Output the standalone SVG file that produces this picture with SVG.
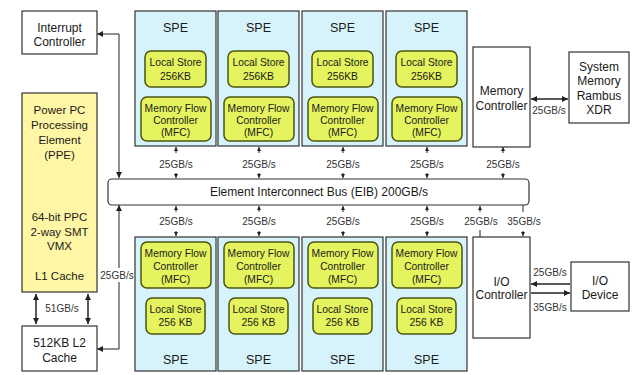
<svg xmlns="http://www.w3.org/2000/svg" width="635" height="375" viewBox="0 0 635 375">
  <style>
    text { font-family: "Liberation Sans", Arial, sans-serif; font-size: 12px; fill: #1a1a1a; text-anchor: middle; }
    .lbl { font-size: 10px; fill: #333; }
    .in { font-size: 10.3px; }
    .ppt { font-size: 11.5px; }
    .title { font-size: 12.5px; }
    .bus { font-size: 12px; }
    .box { fill: #fff; stroke: #333; stroke-width: 1.2; }
    .spe { fill: #d6f2fa; stroke: #333; stroke-width: 1.2; }
    .inner { fill: #e5f35e; stroke: #4a5512; stroke-width: 1.5; }
    .ppe { fill: #fff7a6; stroke: #333; stroke-width: 1.2; }
    .eib { fill: #fff; stroke: #333; stroke-width: 1.2; }
    .wire { fill: none; stroke: #222; stroke-width: 1; }
    .wire2 { fill: none; stroke: #222; stroke-width: 1.5; }
  </style>
  <defs>
    <marker id="head" viewBox="0 0 6 6" refX="6" refY="3" markerWidth="4" markerHeight="4" orient="auto" markerUnits="userSpaceOnUse">
      <path d="M0,0 L6,3 L0,6 Z" fill="#222"/>
    </marker>
    <marker id="bighead" viewBox="0 0 6 6" refX="6" refY="3" markerWidth="6" markerHeight="6" orient="auto" markerUnits="userSpaceOnUse">
      <path d="M0,0 L6,3 L0,6 Z" fill="#222"/>
    </marker>
    <marker id="bigtail" viewBox="0 0 6 6" refX="0" refY="3" markerWidth="6" markerHeight="6" orient="auto" markerUnits="userSpaceOnUse">
      <path d="M6,0 L0,3 L6,6 Z" fill="#222"/>
    </marker>
  </defs>

  <rect width="635" height="375" fill="#fff"/>

  <!-- connectors -->
  <g id="connectors">
    <!-- Interrupt controller to EIB -->
    <path class="wire" d="M97,34 H119 V178" marker-start="url(#bigtail)" marker-end="url(#bighead)"/>
    <!-- EIB to L2 cache -->
    <path class="wire" d="M119,205 V349 H97" marker-start="url(#bigtail)" marker-end="url(#bighead)"/>
    <rect x="99" y="268" width="36" height="14" fill="#fff"/>
    <text class="lbl" x="117" y="279">25GB/s</text>

    <!-- PPE to L2 cache -->
    <line class="wire2" x1="36" y1="294" x2="36" y2="324" marker-start="url(#bigtail)" marker-end="url(#bighead)"/>
    <line class="wire2" x1="88" y1="294" x2="88" y2="324" marker-start="url(#bigtail)" marker-end="url(#bighead)"/>
    <text class="lbl" x="62" y="312">51GB/s</text>

    <!-- top SPEs / memory controller to EIB -->
    <g id="top-links">
      <path class="wire" d="M176,153 V147" marker-end="url(#head)"/>
      <path class="wire" d="M176,173 V178" marker-end="url(#head)"/>
      <text class="lbl" x="176" y="168">25GB/s</text>
      <path class="wire" d="M259,153 V147" marker-end="url(#head)"/>
      <path class="wire" d="M259,173 V178" marker-end="url(#head)"/>
      <text class="lbl" x="259" y="168">25GB/s</text>
      <path class="wire" d="M343,153 V147" marker-end="url(#head)"/>
      <path class="wire" d="M343,173 V178" marker-end="url(#head)"/>
      <text class="lbl" x="343" y="168">25GB/s</text>
      <path class="wire" d="M427,153 V147" marker-end="url(#head)"/>
      <path class="wire" d="M427,173 V178" marker-end="url(#head)"/>
      <text class="lbl" x="427" y="168">25GB/s</text>
      <path class="wire" d="M503,153 V147" marker-end="url(#head)"/>
      <path class="wire" d="M503,173 V178" marker-end="url(#head)"/>
      <text class="lbl" x="503" y="168">25GB/s</text>
    </g>

    <!-- EIB to bottom SPEs / IO controller -->
    <g id="bottom-links">
      <path class="wire" d="M176,212 V206" marker-end="url(#head)"/>
      <path class="wire" d="M176,231 V236" marker-end="url(#head)"/>
      <text class="lbl" x="176" y="225">25GB/s</text>
      <path class="wire" d="M259,212 V206" marker-end="url(#head)"/>
      <path class="wire" d="M259,231 V236" marker-end="url(#head)"/>
      <text class="lbl" x="259" y="225">25GB/s</text>
      <path class="wire" d="M343,212 V206" marker-end="url(#head)"/>
      <path class="wire" d="M343,231 V236" marker-end="url(#head)"/>
      <text class="lbl" x="343" y="225">25GB/s</text>
      <path class="wire" d="M427,212 V206" marker-end="url(#head)"/>
      <path class="wire" d="M427,231 V236" marker-end="url(#head)"/>
      <text class="lbl" x="427" y="225">25GB/s</text>
      <path class="wire" d="M480,212 V206" marker-end="url(#head)"/>
      <line class="wire" x1="480" y1="230" x2="480" y2="237"/>
      <text class="lbl" x="481" y="225">25GB/s</text>
      <line class="wire" x1="523" y1="205" x2="523" y2="212"/>
      <path class="wire" d="M523,231 V236" marker-end="url(#head)"/>
      <text class="lbl" x="524" y="225">35GB/s</text>
    </g>

    <!-- memory controller to system memory -->
    <line class="wire2" x1="531" y1="99" x2="568" y2="99" marker-start="url(#bigtail)" marker-end="url(#bighead)"/>
    <text class="lbl" x="549" y="114">25GB/s</text>

    <!-- IO controller to IO device -->
    <path class="wire2" d="M570,284 H531" marker-end="url(#bighead)"/>
    <path class="wire2" d="M531,293 H570" marker-end="url(#bighead)"/>
    <text class="lbl" x="550" y="276">25GB/s</text>
    <text class="lbl" x="550" y="311">35GB/s</text>
  </g>

  <!-- Interrupt controller -->
  <g id="interrupt-controller">
    <rect class="box" x="22" y="11" width="75" height="43"/>
    <text x="59.5" y="32">Interrupt</text>
    <text x="59.5" y="46">Controller</text>
  </g>

  <!-- PPE -->
  <g id="ppe">
    <rect class="ppe" x="22" y="93" width="75" height="199"/>
    <text class="ppt" x="59.5" y="114">Power PC</text>
    <text class="ppt" x="59.5" y="129">Processing</text>
    <text class="ppt" x="59.5" y="144">Element</text>
    <text class="ppt" x="59.5" y="159">(PPE)</text>
    <text class="ppt" x="59.5" y="221">64-bit PPC</text>
    <text class="ppt" x="59.5" y="236">2-way SMT</text>
    <text class="ppt" x="59.5" y="250">VMX</text>
    <text class="ppt" x="59.5" y="280">L1 Cache</text>
  </g>

  <!-- L2 cache -->
  <g id="l2-cache">
    <rect class="box" x="22" y="326" width="75" height="45"/>
    <text x="59.5" y="347">512KB L2</text>
    <text x="59.5" y="362">Cache</text>
  </g>

  <!-- top row of SPEs -->
  <g id="spe-top-1">
    <rect class="spe" x="135" y="11" width="81" height="135"/>
    <text class="title" x="175.5" y="32">SPE</text>
    <rect class="inner" x="145" y="51" width="61" height="36" rx="6"/>
    <text class="in" x="175.5" y="66">Local Store</text>
    <text class="in" x="175.5" y="80">256KB</text>
    <rect class="inner" x="141" y="97" width="70" height="44" rx="6"/>
    <text class="in" x="175.5" y="112">Memory Flow</text>
    <text class="in" x="175.5" y="124">Controller</text>
    <text class="in" x="175.5" y="136">(MFC)</text>
  </g>
  <g id="spe-top-2">
    <rect class="spe" x="218" y="11" width="81" height="135"/>
    <text class="title" x="258.5" y="32">SPE</text>
    <rect class="inner" x="228" y="51" width="61" height="36" rx="6"/>
    <text class="in" x="258.5" y="66">Local Store</text>
    <text class="in" x="258.5" y="80">256KB</text>
    <rect class="inner" x="224" y="97" width="70" height="44" rx="6"/>
    <text class="in" x="258.5" y="112">Memory Flow</text>
    <text class="in" x="258.5" y="124">Controller</text>
    <text class="in" x="258.5" y="136">(MFC)</text>
  </g>
  <g id="spe-top-3">
    <rect class="spe" x="302" y="11" width="81" height="135"/>
    <text class="title" x="342.5" y="32">SPE</text>
    <rect class="inner" x="312" y="51" width="61" height="36" rx="6"/>
    <text class="in" x="342.5" y="66">Local Store</text>
    <text class="in" x="342.5" y="80">256KB</text>
    <rect class="inner" x="308" y="97" width="70" height="44" rx="6"/>
    <text class="in" x="342.5" y="112">Memory Flow</text>
    <text class="in" x="342.5" y="124">Controller</text>
    <text class="in" x="342.5" y="136">(MFC)</text>
  </g>
  <g id="spe-top-4">
    <rect class="spe" x="386" y="11" width="81" height="135"/>
    <text class="title" x="426.5" y="32">SPE</text>
    <rect class="inner" x="396" y="51" width="61" height="36" rx="6"/>
    <text class="in" x="426.5" y="66">Local Store</text>
    <text class="in" x="426.5" y="80">256KB</text>
    <rect class="inner" x="392" y="97" width="70" height="44" rx="6"/>
    <text class="in" x="426.5" y="112">Memory Flow</text>
    <text class="in" x="426.5" y="124">Controller</text>
    <text class="in" x="426.5" y="136">(MFC)</text>
  </g>

  <!-- memory controller -->
  <g id="memory-controller">
    <rect class="box" x="473" y="47" width="57" height="100"/>
    <text x="501.5" y="95">Memory</text>
    <text x="501.5" y="110">Controller</text>
  </g>

  <!-- system memory -->
  <g id="system-memory">
    <rect class="box" x="569" y="52" width="60" height="71"/>
    <text x="599" y="71">System</text>
    <text x="599" y="85">Memory</text>
    <text x="599" y="100">Rambus</text>
    <text x="599" y="114">XDR</text>
  </g>

  <!-- element interconnect bus -->
  <g id="eib">
    <rect class="eib" x="108" y="179" width="421" height="26" rx="4"/>
    <text class="bus" x="319" y="196">Element Interconnect Bus (EIB) 200GB/s</text>
  </g>

  <!-- bottom row of SPEs -->
  <g id="spe-bottom-1">
    <rect class="spe" x="135" y="237" width="81" height="134"/>
    <rect class="inner" x="141" y="242" width="70" height="46" rx="6"/>
    <text class="in" x="175.5" y="257">Memory Flow</text>
    <text class="in" x="175.5" y="270">Controller</text>
    <text class="in" x="175.5" y="283">(MFC)</text>
    <rect class="inner" x="146" y="298" width="59" height="36" rx="6"/>
    <text class="in" x="175.5" y="313">Local Store</text>
    <text class="in" x="175.5" y="326">256 KB</text>
    <text class="title" x="175.5" y="364">SPE</text>
  </g>
  <g id="spe-bottom-2">
    <rect class="spe" x="218" y="237" width="81" height="134"/>
    <rect class="inner" x="224" y="242" width="70" height="46" rx="6"/>
    <text class="in" x="258.5" y="257">Memory Flow</text>
    <text class="in" x="258.5" y="270">Controller</text>
    <text class="in" x="258.5" y="283">(MFC)</text>
    <rect class="inner" x="229" y="298" width="59" height="36" rx="6"/>
    <text class="in" x="258.5" y="313">Local Store</text>
    <text class="in" x="258.5" y="326">256 KB</text>
    <text class="title" x="258.5" y="364">SPE</text>
  </g>
  <g id="spe-bottom-3">
    <rect class="spe" x="302" y="237" width="81" height="134"/>
    <rect class="inner" x="308" y="242" width="70" height="46" rx="6"/>
    <text class="in" x="342.5" y="257">Memory Flow</text>
    <text class="in" x="342.5" y="270">Controller</text>
    <text class="in" x="342.5" y="283">(MFC)</text>
    <rect class="inner" x="313" y="298" width="59" height="36" rx="6"/>
    <text class="in" x="342.5" y="313">Local Store</text>
    <text class="in" x="342.5" y="326">256 KB</text>
    <text class="title" x="342.5" y="364">SPE</text>
  </g>
  <g id="spe-bottom-4">
    <rect class="spe" x="386" y="237" width="81" height="134"/>
    <rect class="inner" x="392" y="242" width="70" height="46" rx="6"/>
    <text class="in" x="426.5" y="257">Memory Flow</text>
    <text class="in" x="426.5" y="270">Controller</text>
    <text class="in" x="426.5" y="283">(MFC)</text>
    <rect class="inner" x="397" y="298" width="59" height="36" rx="6"/>
    <text class="in" x="426.5" y="313">Local Store</text>
    <text class="in" x="426.5" y="326">256 KB</text>
    <text class="title" x="426.5" y="364">SPE</text>
  </g>

  <!-- IO controller -->
  <g id="io-controller">
    <rect class="box" x="473" y="237" width="57" height="101"/>
    <text x="501.5" y="286">I/O</text>
    <text x="501.5" y="299">Controller</text>
  </g>

  <!-- IO device -->
  <g id="io-device">
    <rect class="box" x="571" y="262" width="58" height="49"/>
    <text x="600" y="285">I/O</text>
    <text x="600" y="299">Device</text>
  </g>
</svg>
